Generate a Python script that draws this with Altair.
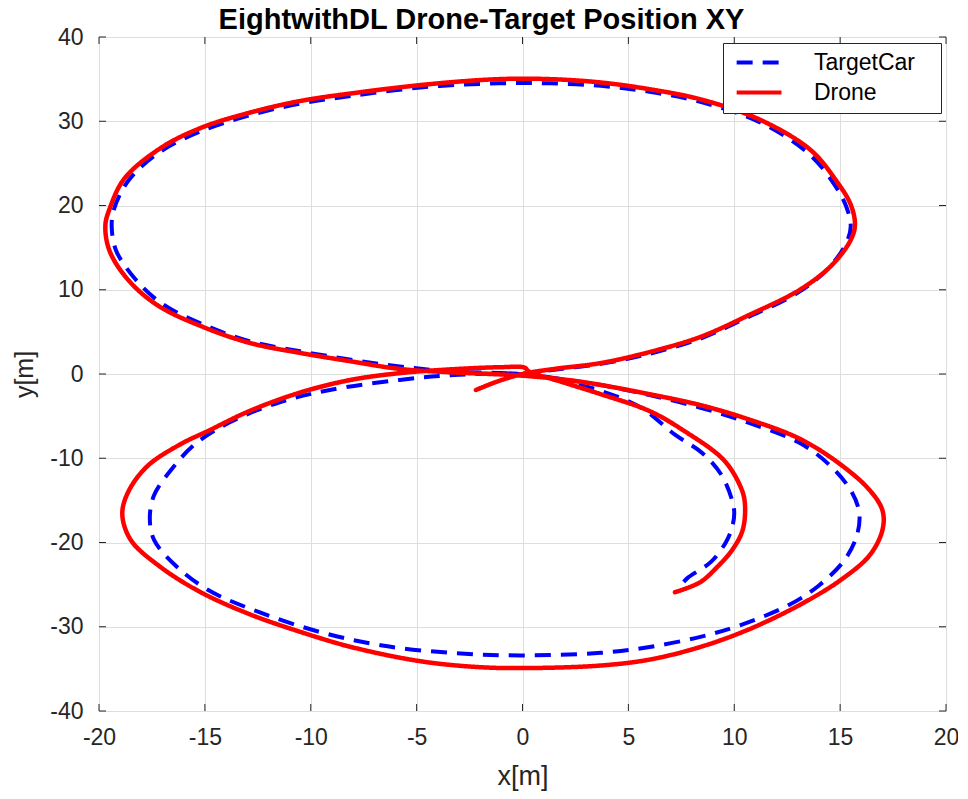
import altair as alt
import pandas as pd

# ---------------- data ----------------
target_x = [0, 1.8, 3.7, 6.0, 8.4, 10.7, 13.1, 14.5, 15.3, 15.5, 15.3, 14.7, 13.5, 11.2, 8.4, 6.0, 3.7, 1.3,
            -1.1, -4.4, -8.1, -10.5, -12.9, -15.2, -17.1, -18.6, -19.3, -19.4, -19.2, -18.3, -17.0, -15.1,
            -12.9, -10.5, -8.1, -5.8, -3.4, 0,
            1.8, 3.7, 6.0, 8.4, 10.7, 13.1, 14.5, 15.5, 15.9, 15.8, 15.2, 14.0, 12.6, 10.3, 8.4, 6.0, 3.7,
            -0.1, -3.4, -6.7, -9.6, -12.4, -14.8, -16.4, -17.4, -17.6, -17.4, -16.6, -15.5, -13.8, -11.4,
            -9.1, -5.8, -3.0, 0,
            1.8, 3.7, 5.6, 7.2, 8.5, 9.4, 9.9, 10.0, 9.9, 9.6, 8.9, 7.8, 7.5]
target_y = [0, 0.6, 1.2, 2.4, 4.2, 6.8, 9.8, 12.7, 15.6, 17.5, 19.8, 22.6, 26.2, 29.9, 32.3, 33.5, 34.2, 34.5,
            34.5, 34.1, 33.0, 32.1, 30.7, 28.8, 26.4, 23.0, 19.5, 17.5, 14.7, 11.3, 8.3, 5.9,
            3.9, 2.7, 1.7, 0.9, 0.3, 0,
            -0.6, -1.3, -2.5, -4.0, -5.8, -8.2, -10.8, -13.8, -16.4, -19.1, -22.1, -25.1, -27.4, -29.8, -31.2,
            -32.4, -33.1, -33.4, -33.1, -32.2, -30.6, -28.3, -25.7, -22.7, -19.7, -17.1, -14.4, -11.4, -8.4,
            -5.7, -3.3, -1.9, -0.7, -0.1, 0,
            -0.8, -2.0, -4.0, -7.2, -9.4, -12.0, -15.0, -16.5, -18.2, -20.0, -22.3, -24.2, -25.0]

drone_x = [-2.2, -1.2, 0.0, 1.5, 3.7, 6.0, 8.4, 10.7, 13.1, 14.6, 15.5, 15.7, 15.5, 14.8, 13.6, 11.2, 8.4, 6.0,
           3.7, 1.3, -1.1, -4.4, -8.1, -10.5, -12.9, -15.2, -17.1, -18.8, -19.5, -19.7, -19.5, -18.6, -17.2,
           -15.2, -12.9, -10.5, -8.1, -5.8, -3.4, 0.0,
           2.7, 6.0, 8.4, 10.7, 13.1, 15.0, 16.4, 17.0, 17.0, 16.4, 15.0, 13.1, 10.7, 8.4, 6.0, 3.7, 0.4,
           -2.0, -4.8, -8.1, -10.5, -12.9, -15.2, -17.1, -18.5, -18.9, -18.6, -17.7, -16.2, -14.8, -12.9,
           -10.5, -8.1, -5.8, -3.4, -1.1, 0.1, 0.3,
           1.8, 3.7, 6.0, 7.6, 9.5, 10.3, 10.5, 10.4, 9.9, 9.2, 8.4, 7.2]
drone_y = [-1.9, -0.9, 0.0, 0.6, 1.3, 2.6, 4.4, 7.0, 10.0, 12.9, 15.9, 17.7, 20.1, 23.0, 26.6, 30.2, 32.6, 33.8,
           34.6, 35.0, 35.0, 34.4, 33.3, 32.4, 31.0, 29.2, 26.8, 23.2, 19.6, 17.6, 14.6, 11.1, 8.1,
           5.7, 3.7, 2.5, 1.5, 0.6, 0.2, -0.2,
           -0.9, -2.4, -3.7, -5.4, -7.7, -10.7, -13.8, -16.2, -18.5, -21.5, -24.5, -27.4, -30.3, -32.4, -33.9,
           -34.6, -34.9, -34.8, -34.1, -32.4, -30.6, -28.5, -25.9, -22.9, -19.7, -16.6, -13.9, -10.9, -8.4,
           -6.7, -4.4, -2.2, -0.7, 0.1, 0.55, 0.8, 0.75, 0.3,
           -0.9, -2.4, -4.4, -6.7, -10.2, -13.4, -15.3, -18.5, -20.9, -22.9, -24.7, -25.9]

series_names = ["TargetCar", "Drone"]
series_colors = ["#0000ff", "#ff0000"]
x_ticks = [-20, -15, -10, -5, 0, 5, 10, 15, 20]
y_ticks = [-40, -30, -20, -10, 0, 10, 20, 30, 40]

# ---------------- build tables ----------------
rows = []
for i, (x, y) in enumerate(zip(target_x, target_y)):
    rows.append({"series": "TargetCar", "x": x, "y": y, "i": i})
tdf = pd.DataFrame(rows)
rows = []
for i, (x, y) in enumerate(zip(drone_x, drone_y)):
    rows.append({"series": "Drone", "x": x, "y": y, "i": i})
ddf = pd.DataFrame(rows)
xt = pd.DataFrame({"x": x_ticks})
yt = pd.DataFrame({"y": y_ticks})

W, H = 847, 674
FONT = "Liberation Sans"
AXC = "#262626"

xs = alt.Scale(domain=[-20, 20], nice=False, zero=False)
ys = alt.Scale(domain=[-40, 40], nice=False, zero=False)

x_axis = alt.Axis(values=x_ticks, title="x[m]", domain=False, ticks=False, tickSize=0,
                  labelExpr="'' + datum.value",
                  labelPadding=15, labelFontSize=23, labelFont=FONT, labelColor=AXC,
                  titleFontSize=27, titleFont=FONT, titleFontWeight="normal", titleColor=AXC,
                  titleY=65, titleBaseline="middle", grid=True, gridColor="#dedede",
                  labelFlush=False, labelOverlap=False)
y_axis = alt.Axis(values=y_ticks, title="y[m]", domain=False, ticks=False, tickSize=0,
                  labelExpr="'' + datum.value",
                  labelPadding=16, labelFontSize=23, labelFont=FONT, labelColor=AXC,
                  titleFontSize=25, titleFont=FONT, titleFontWeight="normal", titleColor=AXC,
                  titleX=-75, titleY=H / 2, titleAngle=-90, titleAlign="center", titleBaseline="middle",
                  grid=True, gridColor="#dedede", labelFlush=False, labelOverlap=False)

# legend symbol: a long line drawn from a small layout box; a blank title on the right widens the box
legend = alt.Legend(title=" ", titleOrient="right", titleFontSize=1, titlePadding=18,
                    orient="none", legendX=624, legendY=6, direction="vertical",
                    symbolType="M-0.9,0L6,0", symbolSize=169, symbolStrokeWidth=4,
                    labelFontSize=23, labelFont=FONT, labelColor="black", labelOffset=60,
                    fillColor="white", strokeColor=AXC, padding=8, rowPadding=6)

color = alt.Color("series:N", scale=alt.Scale(domain=series_names, range=series_colors), legend=legend)
dash = alt.StrokeDash("series:N", scale=alt.Scale(domain=series_names, range=[[16, 10], [1, 0]]), legend=legend)

target = alt.Chart(tdf).mark_line(interpolate="catmull-rom", strokeWidth=4, strokeCap="butt").encode(
    x=alt.X("x:Q", scale=xs, axis=x_axis), y=alt.Y("y:Q", scale=ys, axis=y_axis),
    color=color, strokeDash=dash, order="i:Q")
drone = alt.Chart(ddf).mark_line(interpolate="catmull-rom", strokeWidth=4.5, strokeCap="round",
                                 strokeJoin="round").encode(
    x=alt.X("x:Q", scale=xs, axis=x_axis), y=alt.Y("y:Q", scale=ys, axis=y_axis),
    color=color, strokeDash=dash, order="i:Q")

TL = 7
tb = alt.Chart(xt).mark_rule(color=AXC, strokeWidth=1).encode(
    x=alt.X("x:Q", scale=xs, axis=x_axis), y=alt.value(H), y2=alt.value(H - TL))
tt = alt.Chart(xt).mark_rule(color=AXC, strokeWidth=1).encode(
    x=alt.X("x:Q", scale=xs, axis=x_axis), y=alt.value(0), y2=alt.value(TL))
tl = alt.Chart(yt).mark_rule(color=AXC, strokeWidth=1).encode(
    y=alt.Y("y:Q", scale=ys, axis=y_axis), x=alt.value(0), x2=alt.value(TL))
tr = alt.Chart(yt).mark_rule(color=AXC, strokeWidth=1).encode(
    y=alt.Y("y:Q", scale=ys, axis=y_axis), x=alt.value(W), x2=alt.value(W - TL))

chart = alt.layer(tb, tt, tl, tr, target, drone).properties(
    width=W, height=H,
    title=alt.TitleParams("EightwithDL Drone-Target Position XY", fontSize=29, font=FONT,
                          fontWeight="bold", color="black", anchor="middle", offset=-9, dx=-41),
    autosize=alt.AutoSizeParams(type="none"),
    padding={"left": 91, "top": 29, "right": 12, "bottom": 80},
).configure_view(stroke=AXC, strokeWidth=1).configure(background="white")

chart.save("out.html", embed_options={"renderer": "svg", "actions": False})
